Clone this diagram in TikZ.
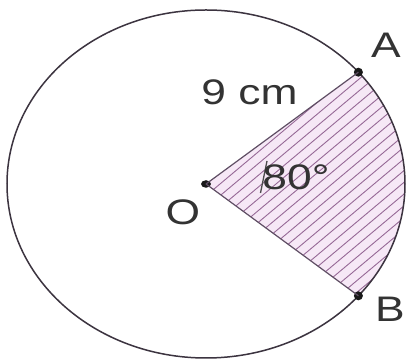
\documentclass[tikz,border=0pt]{standalone}
\usepackage{fontspec}
\newfontfamily\labfont[FakeStretch=1.25]{Liberation Sans}
\usetikzlibrary{calc,shapes.geometric}
\definecolor{rim}{RGB}{60,52,64}
\definecolor{hatchc}{RGB}{150,105,150}
\definecolor{sectfill}{RGB}{246,232,246}
\definecolor{edgec}{RGB}{95,78,100}
\tikzset{
  lab/.style={inner sep=0pt, anchor=base, font=\labfont\fontsize{35.5}{35.5}\selectfont, text=black!80},
  dotnode/.style={circle, fill=black!90, inner sep=0pt, minimum size=9pt},
  hatchline/.style={draw=hatchc, line width=0.9pt},
}
\begin{document}
\begin{tikzpicture}[x=1pt,y=1pt]
\useasboundingbox[fill=white] (0,0) rectangle (413,363);
\coordinate (C) at (206,179);
\coordinate (Ap) at (358.4,290.8);
\coordinate (Bp) at (358.4,67.2);
% sector fill
\fill[sectfill] (C) -- (Bp) arc[start angle=-40, end angle=40, x radius=199pt, y radius=174pt] -- cycle;
% hatching
\begin{scope}
\clip (C) -- (Bp) arc[start angle=-40, end angle=40, x radius=199pt, y radius=174pt] -- cycle;
\foreach \i in {-30,...,30}{
  \draw[hatchline] ($(C)+(130:{\i*9})$) ++(220:300) -- ++(40:600);
}
\end{scope}
% circle
\draw[rim, line width=1.5pt] (C) ellipse[x radius=199pt, y radius=174pt];
% points
\node[dotnode] (A) at (Ap) {};
\node[dotnode] (B) at (Bp) {};
\node[dotnode, shape=ellipse, minimum width=10pt, minimum height=7.5pt] (O) at (C) {};
% radii
\draw[edgec, line width=1.2pt] (O.center) -- (A.center);
\draw[edgec, line width=1.2pt] (O.center) -- (B.center);
% angle mark
\draw[black!70, line width=1.3pt] (260.5,170) -- (267,202);
% labels
\node[lab] (la) at (386,305) {A};
\node[lab] (lb) at (390,41) {B};
\node[lab] (lo) at (183,138) {O};
\node[lab] (lr) at (249.5,258) {9 cm};
\node[lab] (lang) at (296,173) {80°};
\end{tikzpicture}
\end{document}
